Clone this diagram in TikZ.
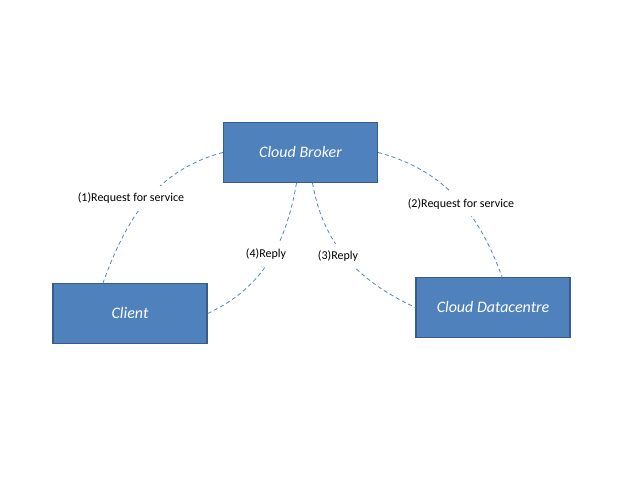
\documentclass[tikz,border=0pt]{standalone}
\usepackage{fontspec}
\setmainfont{Carlito}
\definecolor{boxfill}{RGB}{79,129,189}
\definecolor{boxline}{RGB}{56,93,138}
\definecolor{linkblue}{RGB}{84,132,190}
\begin{document}
\begin{tikzpicture}[x=1pt,y=1pt,
    entity/.style={draw=boxline,line width=1.3pt,fill=boxfill,
      minimum width=154pt,minimum height=60pt,text=white,
      font=\fontsize{16}{18}\selectfont\itshape},
    link/.style={draw=linkblue,line width=0.8pt,dash pattern=on 4pt off 3pt},
    msg/.style={fill=white,inner xsep=1pt,inner ysep=7pt,
      font=\fontsize{12}{14}\selectfont}]
  \useasboundingbox (0,0) rectangle (638,478);
  \draw
    (300.5,325.5) node[entity] (broker){Cloud Broker}
    (130,164.5) node[entity] (client){Client}
    (493,170.5) node[entity] (dc){Cloud Datacentre};
  \begin{scope}[link]
    \draw (broker.west) to[out=195,in=70] ([xshift=-27pt]client.north);
    \draw (broker.east) to[out=-15,in=110] ([xshift=9pt]dc.north);
    \draw ([xshift=-4pt]broker.south) to[out=-100,in=25] (client.east);
    \draw ([xshift=12pt]broker.south) to[out=-80,in=155] (dc.west);
  \end{scope}
  \draw
    (131,280) node[msg] (req1){(1)Request for service}
    (461,274) node[msg] (req2){(2)Request for service}
    (266,224) node[msg] (rep4){(4)Reply}
    (338,222) node[msg] (rep3){(3)Reply};
\end{tikzpicture}
\end{document}
